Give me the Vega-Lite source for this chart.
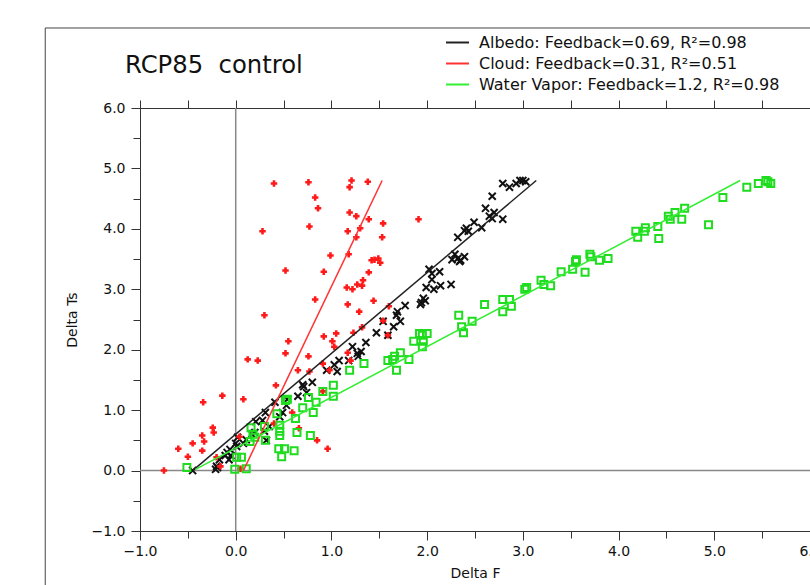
{
"$schema": "https://vega.github.io/schema/vega-lite/v6.json",
"width": 670, "height": 423,
"autosize": {"type": "none"},
"padding": {"left": 140, "top": 108, "right": 0, "bottom": 54},
"background": "white",
"config": {"view": {"stroke": "#333", "strokeWidth": 1}, "font": "DejaVu Sans"},
"datasets": {
"pts": [
{"s":"A","dF":2.79,"dTs":4.75},{"s":"A","dF":2.86,"dTs":4.69},{"s":"A","dF":2.93,"dTs":4.75},{"s":"A","dF":2.97,"dTs":4.80},{"s":"A","dF":3.00,"dTs":4.80},{"s":"A","dF":3.03,"dTs":4.78},{"s":"A","dF":2.68,"dTs":4.54},{"s":"A","dF":2.61,"dTs":4.34},{"s":"A","dF":2.70,"dTs":4.27},{"s":"A","dF":2.65,"dTs":4.21},{"s":"A","dF":2.68,"dTs":4.17},{"s":"A","dF":2.79,"dTs":4.16},{"s":"A","dF":2.57,"dTs":4.02},{"s":"A","dF":2.49,"dTs":4.11},{"s":"A","dF":2.41,"dTs":4.01},{"s":"A","dF":2.43,"dTs":3.96},{"s":"A","dF":2.39,"dTs":3.97},{"s":"A","dF":2.32,"dTs":3.86},{"s":"A","dF":2.29,"dTs":3.58},{"s":"A","dF":2.32,"dTs":3.51},{"s":"A","dF":2.35,"dTs":3.48},{"s":"A","dF":2.39,"dTs":3.54},{"s":"A","dF":2.34,"dTs":3.46},{"s":"A","dF":2.26,"dTs":3.49},{"s":"A","dF":2.02,"dTs":3.33},{"s":"A","dF":2.05,"dTs":3.26},{"s":"A","dF":2.13,"dTs":3.29},{"s":"A","dF":2.05,"dTs":3.16},{"s":"A","dF":1.99,"dTs":3.03},{"s":"A","dF":2.07,"dTs":3.00},{"s":"A","dF":2.14,"dTs":3.06},{"s":"A","dF":2.25,"dTs":3.08},{"s":"A","dF":1.96,"dTs":2.85},{"s":"A","dF":1.94,"dTs":2.78},{"s":"A","dF":1.93,"dTs":2.75},{"s":"A","dF":1.98,"dTs":2.81},{"s":"A","dF":1.77,"dTs":2.73},{"s":"A","dF":1.69,"dTs":2.63},{"s":"A","dF":1.68,"dTs":2.57},{"s":"A","dF":1.72,"dTs":2.47},{"s":"A","dF":1.65,"dTs":2.38},{"s":"A","dF":1.54,"dTs":2.47},{"s":"A","dF":1.59,"dTs":2.24},{"s":"A","dF":1.47,"dTs":2.28},{"s":"A","dF":1.36,"dTs":2.12},{"s":"A","dF":1.31,"dTs":1.97},{"s":"A","dF":1.27,"dTs":1.94},{"s":"A","dF":1.28,"dTs":1.89},{"s":"A","dF":1.22,"dTs":2.05},{"s":"A","dF":1.18,"dTs":1.82},{"s":"A","dF":1.08,"dTs":1.82},{"s":"A","dF":1.03,"dTs":1.75},{"s":"A","dF":1.06,"dTs":1.64},{"s":"A","dF":0.95,"dTs":1.66},{"s":"A","dF":0.71,"dTs":1.39},{"s":"A","dF":0.70,"dTs":1.42},{"s":"A","dF":0.80,"dTs":1.46},{"s":"A","dF":0.74,"dTs":1.29},{"s":"A","dF":0.65,"dTs":1.23},{"s":"A","dF":0.54,"dTs":1.18},{"s":"A","dF":0.53,"dTs":1.08},{"s":"A","dF":0.41,"dTs":1.13},{"s":"A","dF":0.49,"dTs":0.96},{"s":"A","dF":0.46,"dTs":0.89},{"s":"A","dF":0.31,"dTs":0.96},{"s":"A","dF":0.28,"dTs":0.83},{"s":"A","dF":0.21,"dTs":0.81},{"s":"A","dF":0.35,"dTs":0.73},{"s":"A","dF":0.30,"dTs":0.65},{"s":"A","dF":0.20,"dTs":0.63},{"s":"A","dF":0.17,"dTs":0.60},{"s":"A","dF":0.32,"dTs":0.50},{"s":"A","dF":0.02,"dTs":0.55},{"s":"A","dF":0.11,"dTs":0.51},{"s":"A","dF":0.08,"dTs":0.45},{"s":"A","dF":0.00,"dTs":0.45},{"s":"A","dF":0.01,"dTs":0.40},{"s":"A","dF":-0.06,"dTs":0.35},{"s":"A","dF":-0.09,"dTs":0.30},{"s":"A","dF":-0.11,"dTs":0.25},{"s":"A","dF":-0.07,"dTs":0.18},{"s":"A","dF":-0.05,"dTs":0.25},{"s":"A","dF":-0.17,"dTs":0.18},{"s":"A","dF":-0.20,"dTs":0.07},{"s":"A","dF":-0.19,"dTs":0.05},{"s":"A","dF":-0.21,"dTs":0.02},{"s":"A","dF":-0.45,"dTs":0.00},
{"s":"C","dF":0.40,"dTs":4.75},{"s":"C","dF":0.76,"dTs":4.77},{"s":"C","dF":1.21,"dTs":4.80},{"s":"C","dF":1.19,"dTs":4.69},{"s":"C","dF":1.38,"dTs":4.78},{"s":"C","dF":0.83,"dTs":4.52},{"s":"C","dF":0.86,"dTs":4.34},{"s":"C","dF":1.19,"dTs":4.27},{"s":"C","dF":1.26,"dTs":4.21},{"s":"C","dF":1.39,"dTs":4.16},{"s":"C","dF":1.54,"dTs":4.09},{"s":"C","dF":1.91,"dTs":4.16},{"s":"C","dF":0.28,"dTs":3.96},{"s":"C","dF":0.77,"dTs":4.04},{"s":"C","dF":1.17,"dTs":3.96},{"s":"C","dF":1.30,"dTs":4.01},{"s":"C","dF":1.26,"dTs":3.86},{"s":"C","dF":1.53,"dTs":3.86},{"s":"C","dF":0.99,"dTs":3.56},{"s":"C","dF":1.18,"dTs":3.58},{"s":"C","dF":1.42,"dTs":3.48},{"s":"C","dF":1.45,"dTs":3.49},{"s":"C","dF":1.49,"dTs":3.51},{"s":"C","dF":1.51,"dTs":3.44},{"s":"C","dF":0.52,"dTs":3.31},{"s":"C","dF":0.92,"dTs":3.29},{"s":"C","dF":1.39,"dTs":3.28},{"s":"C","dF":1.33,"dTs":3.15},{"s":"C","dF":1.27,"dTs":3.08},{"s":"C","dF":1.32,"dTs":3.06},{"s":"C","dF":1.16,"dTs":3.03},{"s":"C","dF":1.22,"dTs":3.00},{"s":"C","dF":0.83,"dTs":2.83},{"s":"C","dF":1.44,"dTs":2.81},{"s":"C","dF":1.17,"dTs":2.75},{"s":"C","dF":1.60,"dTs":2.72},{"s":"C","dF":0.30,"dTs":2.57},{"s":"C","dF":1.29,"dTs":2.63},{"s":"C","dF":1.32,"dTs":2.37},{"s":"C","dF":1.23,"dTs":2.28},{"s":"C","dF":1.05,"dTs":2.27},{"s":"C","dF":0.92,"dTs":2.22},{"s":"C","dF":0.55,"dTs":2.14},{"s":"C","dF":1.01,"dTs":2.14},{"s":"C","dF":1.03,"dTs":2.05},{"s":"C","dF":1.59,"dTs":2.24},{"s":"C","dF":1.54,"dTs":2.48},{"s":"C","dF":0.52,"dTs":1.94},{"s":"C","dF":0.76,"dTs":1.89},{"s":"C","dF":0.125,"dTs":1.84},{"s":"C","dF":0.23,"dTs":1.82},{"s":"C","dF":0.65,"dTs":1.66},{"s":"C","dF":0.77,"dTs":1.64},{"s":"C","dF":0.91,"dTs":1.77},{"s":"C","dF":0.98,"dTs":1.66},{"s":"C","dF":0.42,"dTs":1.41},{"s":"C","dF":-0.14,"dTs":1.24},{"s":"C","dF":-0.34,"dTs":1.13},{"s":"C","dF":0.08,"dTs":1.18},{"s":"C","dF":-0.24,"dTs":0.71},{"s":"C","dF":-0.23,"dTs":0.63},{"s":"C","dF":-0.35,"dTs":0.58},{"s":"C","dF":-0.33,"dTs":0.48},{"s":"C","dF":-0.45,"dTs":0.45},{"s":"C","dF":-0.60,"dTs":0.36},{"s":"C","dF":-0.35,"dTs":0.33},{"s":"C","dF":-0.50,"dTs":0.23},{"s":"C","dF":-0.75,"dTs":0.00},{"s":"C","dF":0.04,"dTs":0.56},{"s":"C","dF":0.59,"dTs":0.96},{"s":"C","dF":0.66,"dTs":0.70},{"s":"C","dF":0.85,"dTs":0.50},{"s":"C","dF":0.96,"dTs":0.36},{"s":"C","dF":-0.20,"dTs":0.22},{"s":"C","dF":-0.16,"dTs":0.07},{"s":"C","dF":0.05,"dTs":0.03},{"s":"C","dF":0.91,"dTs":1.31},{"s":"C","dF":1.17,"dTs":1.95},{"s":"C","dF":1.20,"dTs":1.82},{"s":"C","dF":0.40,"dTs":0.78},
{"s":"W","dF":5.54,"dTs":4.80},{"s":"W","dF":5.56,"dTs":4.78},{"s":"W","dF":5.59,"dTs":4.75},{"s":"W","dF":5.46,"dTs":4.75},{"s":"W","dF":5.34,"dTs":4.69},{"s":"W","dF":5.09,"dTs":4.52},{"s":"W","dF":4.94,"dTs":4.07},{"s":"W","dF":4.69,"dTs":4.34},{"s":"W","dF":4.59,"dTs":4.27},{"s":"W","dF":4.52,"dTs":4.21},{"s":"W","dF":4.54,"dTs":4.16},{"s":"W","dF":4.66,"dTs":4.16},{"s":"W","dF":4.41,"dTs":4.04},{"s":"W","dF":4.42,"dTs":3.84},{"s":"W","dF":4.28,"dTs":4.02},{"s":"W","dF":4.27,"dTs":3.96},{"s":"W","dF":4.18,"dTs":3.96},{"s":"W","dF":4.20,"dTs":3.86},{"s":"W","dF":3.89,"dTs":3.51},{"s":"W","dF":3.80,"dTs":3.48},{"s":"W","dF":3.70,"dTs":3.58},{"s":"W","dF":3.71,"dTs":3.54},{"s":"W","dF":3.55,"dTs":3.46},{"s":"W","dF":3.56,"dTs":3.49},{"s":"W","dF":3.52,"dTs":3.33},{"s":"W","dF":3.65,"dTs":3.28},{"s":"W","dF":3.40,"dTs":3.29},{"s":"W","dF":3.29,"dTs":3.06},{"s":"W","dF":3.22,"dTs":3.08},{"s":"W","dF":3.19,"dTs":3.15},{"s":"W","dF":3.04,"dTs":3.03},{"s":"W","dF":3.02,"dTs":3.00},{"s":"W","dF":2.86,"dTs":2.83},{"s":"W","dF":2.88,"dTs":2.72},{"s":"W","dF":2.79,"dTs":2.83},{"s":"W","dF":2.79,"dTs":2.63},{"s":"W","dF":2.60,"dTs":2.75},{"s":"W","dF":2.47,"dTs":2.47},{"s":"W","dF":2.33,"dTs":2.57},{"s":"W","dF":2.36,"dTs":2.38},{"s":"W","dF":2.38,"dTs":2.28},{"s":"W","dF":1.92,"dTs":2.27},{"s":"W","dF":1.95,"dTs":2.24},{"s":"W","dF":2.00,"dTs":2.27},{"s":"W","dF":1.96,"dTs":2.14},{"s":"W","dF":1.86,"dTs":2.14},{"s":"W","dF":1.95,"dTs":2.05},{"s":"W","dF":1.72,"dTs":1.95},{"s":"W","dF":1.66,"dTs":1.89},{"s":"W","dF":1.59,"dTs":1.82},{"s":"W","dF":1.64,"dTs":1.84},{"s":"W","dF":1.81,"dTs":1.84},{"s":"W","dF":1.68,"dTs":1.66},{"s":"W","dF":1.34,"dTs":1.77},{"s":"W","dF":1.19,"dTs":1.66},{"s":"W","dF":1.02,"dTs":1.41},{"s":"W","dF":1.02,"dTs":1.23},{"s":"W","dF":0.91,"dTs":1.31},{"s":"W","dF":0.84,"dTs":1.13},{"s":"W","dF":0.76,"dTs":1.21},{"s":"W","dF":0.54,"dTs":1.18},{"s":"W","dF":0.52,"dTs":1.16},{"s":"W","dF":0.70,"dTs":1.04},{"s":"W","dF":0.81,"dTs":0.96},{"s":"W","dF":0.625,"dTs":0.86},{"s":"W","dF":0.43,"dTs":0.94},{"s":"W","dF":0.46,"dTs":0.75},{"s":"W","dF":0.46,"dTs":0.65},{"s":"W","dF":0.46,"dTs":0.58},{"s":"W","dF":0.64,"dTs":0.63},{"s":"W","dF":0.78,"dTs":0.58},{"s":"W","dF":0.45,"dTs":0.36},{"s":"W","dF":0.51,"dTs":0.36},{"s":"W","dF":0.48,"dTs":0.23},{"s":"W","dF":0.61,"dTs":0.33},{"s":"W","dF":0.30,"dTs":0.73},{"s":"W","dF":0.16,"dTs":0.71},{"s":"W","dF":0.18,"dTs":0.60},{"s":"W","dF":0.20,"dTs":0.55},{"s":"W","dF":0.15,"dTs":0.48},{"s":"W","dF":0.31,"dTs":0.50},{"s":"W","dF":0.01,"dTs":0.22},{"s":"W","dF":0.06,"dTs":0.22},{"s":"W","dF":-0.01,"dTs":0.02},{"s":"W","dF":0.11,"dTs":0.03},{"s":"W","dF":-0.51,"dTs":0.05}
],
"fit": [
{"label":"Albedo: Feedback=0.69, R²=0.98","dF":-0.45,"dTs":0.0},
{"label":"Albedo: Feedback=0.69, R²=0.98","dF":3.14,"dTs":4.80},
{"label":"Cloud: Feedback=0.31, R²=0.51","dF":0.08,"dTs":0.0},
{"label":"Cloud: Feedback=0.31, R²=0.51","dF":1.53,"dTs":4.80},
{"label":"Water Vapor: Feedback=1.2, R²=0.98","dF":-0.42,"dTs":0.02},
{"label":"Water Vapor: Feedback=1.2, R²=0.98","dF":5.27,"dTs":4.80}
]
},
"resolve": {"axis": {"x": "independent", "y": "independent"}},
"layer": [
{"data": {"values": [{}]}, "mark": {"type": "rule", "clip": false, "color": "#444", "strokeWidth": 1},
 "encoding": {"x": {"datum": -1.99, "type": "quantitative", "scale": {"domain": [-1, 6], "nice": false, "zero": false}, "axis": null},
  "x2": {"datum": 7.5},
  "y": {"datum": 7.324, "type": "quantitative", "scale": {"domain": [-1, 6], "nice": false, "zero": false}, "axis": null}}},
{"data": {"values": [{}]}, "mark": {"type": "rule", "clip": false, "color": "#444", "strokeWidth": 1},
 "encoding": {"x": {"datum": -1.99, "type": "quantitative", "scale": {"domain": [-1, 6], "nice": false, "zero": false}, "axis": null},
  "y": {"datum": 7.324, "type": "quantitative", "scale": {"domain": [-1, 6], "nice": false, "zero": false}, "axis": null},
  "y2": {"datum": -3}}},
{"data": {"values": [{}]}, "mark": {"type": "text", "clip": false, "text": "RCP85\u00a0\u00a0control", "font": "DejaVu Sans", "fontSize": 24.3, "color": "#111", "align": "left", "baseline": "alphabetic"},
 "encoding": {"x": {"datum": -1.157, "type": "quantitative", "scale": {"domain": [-1, 6], "nice": false, "zero": false}, "axis": null},
  "y": {"datum": 6.58, "type": "quantitative", "scale": {"domain": [-1, 6], "nice": false, "zero": false}, "axis": null}}},
{"data": {"values": [{}]}, "mark": {"type": "rule", "color": "#888", "strokeWidth": 1.5},
 "encoding": {"x": {"datum": 0, "type": "quantitative", "scale": {"domain": [-1, 6], "nice": false, "zero": false}, "axis": null}}},
{"data": {"values": [{}]}, "mark": {"type": "rule", "color": "#888", "strokeWidth": 1.5},
 "encoding": {"y": {"datum": 0, "type": "quantitative", "scale": {"domain": [-1, 6], "nice": false, "zero": false}, "axis": null}}},
{"data": {"name": "pts"}, "transform": [{"filter": "datum.s === 'A'"}],
 "mark": {"type": "point", "shape": "M-1,-1L1,1M-1,1L1,-1", "filled": false, "stroke": "#111", "strokeWidth": 2, "size": 50, "opacity": 1},
 "encoding": {
  "x": {"field": "dF", "type": "quantitative", "scale": {"domain": [-1, 6], "nice": false, "zero": false},
   "axis": {"orient": "bottom", "values": [-1, 0, 1, 2, 3, 4, 5, 6], "format": ".1f", "tickSize": 9, "labelFontSize": 14, "labelPadding": 4, "labelFlush": false, "labelOverlap": false, "labelColor": "#111", "labelFont": "DejaVu Sans", "title": "Delta F", "titleFont": "DejaVu Sans", "titleFontSize": 14, "titleFontWeight": "normal", "titleColor": "#111", "titlePadding": 8, "domainColor": "#333", "tickColor": "#333", "grid": false}},
  "y": {"field": "dTs", "type": "quantitative", "scale": {"domain": [-1, 6], "nice": false, "zero": false},
   "axis": {"orient": "left", "values": [-1, 0, 1, 2, 3, 4, 5, 6], "format": ".1f", "tickSize": 9, "labelFontSize": 14, "labelPadding": 6, "labelFlush": false, "labelOverlap": false, "labelColor": "#111", "labelFont": "DejaVu Sans", "title": "Delta Ts", "titleFont": "DejaVu Sans", "titleFontSize": 14, "titleFontWeight": "normal", "titleColor": "#111", "titlePadding": 12, "domainColor": "#333", "tickColor": "#333", "grid": false}}}},
{"data": {"name": "pts"}, "transform": [{"filter": "datum.s === 'C'"}],
 "mark": {"type": "point", "shape": "cross", "filled": true, "color": "#ff1a1a", "size": 42, "opacity": 1},
 "encoding": {
  "x": {"field": "dF", "type": "quantitative", "scale": {"domain": [-1, 6], "nice": false, "zero": false},
   "axis": {"orient": "bottom", "values": [-0.5, 0.5, 1.5, 2.5, 3.5, 4.5, 5.5], "labels": false, "tickSize": 7, "domain": false, "title": null, "grid": false, "tickColor": "#333"}},
  "y": {"field": "dTs", "type": "quantitative", "scale": {"domain": [-1, 6], "nice": false, "zero": false},
   "axis": {"orient": "left", "values": [-0.5, 0.5, 1.5, 2.5, 3.5, 4.5, 5.5], "labels": false, "tickSize": 7, "domain": false, "title": null, "grid": false, "tickColor": "#333"}}}},
{"data": {"name": "pts"}, "transform": [{"filter": "datum.s === 'W'"}],
 "mark": {"type": "point", "shape": "square", "filled": false, "stroke": "#1fdc1f", "strokeWidth": 2, "size": 49, "opacity": 1},
 "encoding": {
  "x": {"field": "dF", "type": "quantitative", "scale": {"domain": [-1, 6], "nice": false, "zero": false},
   "axis": {"orient": "top", "values": [-1, -0.5, 0, 0.5, 1, 1.5, 2, 2.5, 3, 3.5, 4, 4.5, 5, 5.5, 6], "labels": false, "tickSize": 8, "domain": false, "title": null, "grid": false, "tickColor": "#333"}},
  "y": {"field": "dTs", "type": "quantitative", "scale": {"domain": [-1, 6], "nice": false, "zero": false}, "axis": null}}},
{"data": {"name": "fit"}, "mark": {"type": "line", "strokeWidth": 1.5},
 "encoding": {
  "x": {"field": "dF", "type": "quantitative", "scale": {"domain": [-1, 6], "nice": false, "zero": false}, "axis": null},
  "y": {"field": "dTs", "type": "quantitative", "scale": {"domain": [-1, 6], "nice": false, "zero": false}, "axis": null},
  "color": {"field": "label", "type": "nominal",
   "scale": {"domain": ["Albedo: Feedback=0.69, R²=0.98", "Cloud: Feedback=0.31, R²=0.51", "Water Vapor: Feedback=1.2, R²=0.98"], "range": ["#222222", "#ff3333", "#33ee33"]},
   "legend": {"orient": "none", "legendX": 305, "legendY": -78, "title": null, "symbolType": "stroke", "symbolSize": 529, "symbolStrokeWidth": 2, "labelFontSize": 16, "labelFont": "DejaVu Sans", "labelColor": "#111", "rowPadding": -2.5, "labelOffset": 9, "labelLimit": 500}}}}
]
}
